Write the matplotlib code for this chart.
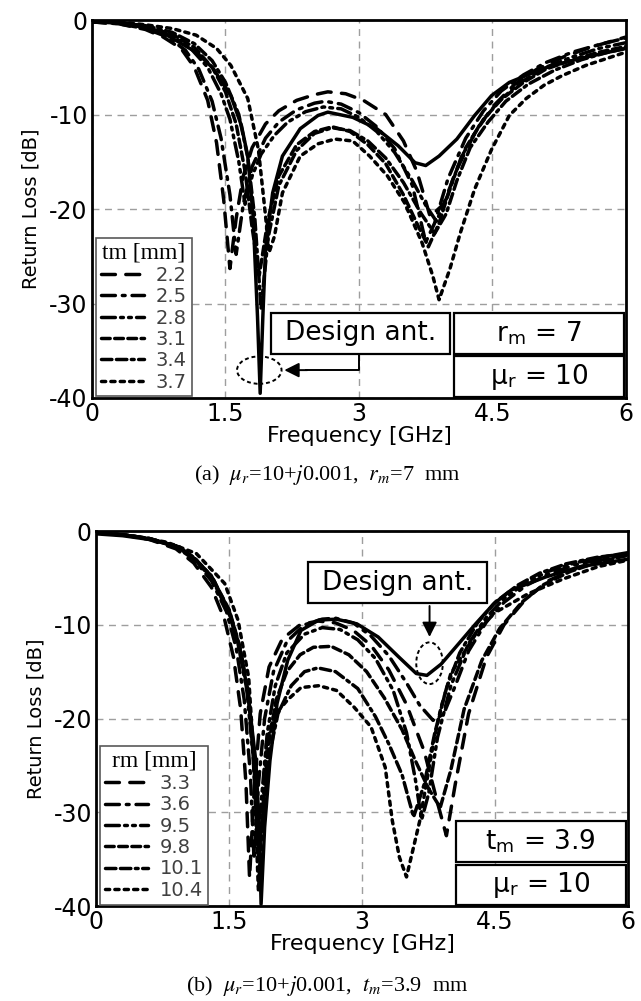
import matplotlib
matplotlib.use('Agg')
import matplotlib.pyplot as plt
from matplotlib.patches import Rectangle, Ellipse

plt.rcParams['mathtext.fontset'] = 'stix'
plt.rcParams['axes.unicode_minus'] = False

# ---------------- data (a): tm varies, rm = 7 ----------------
a_labels = ['2.2', '2.5', '2.8', '3.1', '3.4', '3.7']

a_f_22 = [0, 0.3, 0.6, 0.8, 1.0, 1.15, 1.3, 1.4, 1.48, 1.55, 1.62, 1.7, 1.8, 1.95, 2.1, 2.3, 2.5, 2.65, 2.85,
          3.05, 3.3, 3.5, 3.65, 3.8, 3.95, 4.1, 4.3, 4.5, 4.75, 5.0, 5.3, 5.6, 6.0]
a_db_22 = [-0.2, -0.4, -1.0, -1.8, -3.0, -5.0, -8.5, -13, -19, -26.3, -21, -16.5, -13.5, -11, -9.6, -8.5, -7.9, -7.6,
           -7.8, -8.5, -10, -12.8, -16, -20.8, -19.5, -15.8, -12, -9.2, -6.8, -5.2, -3.9, -2.9, -1.8]

a_f_25 = [0, 0.3, 0.6, 0.85, 1.05, 1.2, 1.35, 1.45, 1.55, 1.62, 1.7, 1.8, 1.95, 2.1, 2.3, 2.5, 2.62, 2.8, 3.0,
          3.2, 3.4, 3.6, 3.75, 3.85, 4.0, 4.2, 4.4, 4.6, 4.85, 5.1, 5.4, 5.7, 6.0]
a_db_25 = [-0.2, -0.4, -0.9, -1.8, -3.2, -5.2, -8.6, -12.5, -18.5, -24.8, -19.5, -15.5, -12.5, -10.8, -9.5, -8.8,
           -8.6, -8.9, -9.8, -11.3, -13.6, -17.5, -23.5, -21.5, -16.8, -12.5, -9.6, -7.5, -5.8, -4.5, -3.4, -2.6, -1.9]

a_f_28 = [0, 0.3, 0.6, 0.9, 1.1, 1.3, 1.45, 1.55, 1.65, 1.72, 1.8, 1.9, 2.05, 2.2, 2.4, 2.6, 2.8, 3.0, 3.2, 3.4,
          3.6, 3.75, 3.87, 4.0, 4.15, 4.35, 4.55, 4.8, 5.1, 5.4, 5.7, 6.0]
a_db_28 = [-0.2, -0.3, -0.8, -1.7, -2.9, -5.0, -7.8, -10.5, -15, -19.5, -16.5, -14.2, -12.2, -10.8, -9.7, -9.2,
           -9.4, -10.3, -11.8, -14, -17, -19.6, -21.3, -18.5, -14.5, -11.2, -8.8, -6.7, -5.0, -3.9, -3.0, -2.4]

a_f_31 = [0, 0.3, 0.6, 0.9, 1.15, 1.35, 1.5, 1.62, 1.72, 1.8, 1.88, 1.98, 2.1, 2.3, 2.5, 2.7, 2.9, 3.1, 3.3, 3.5,
          3.65, 3.78, 3.9, 4.05, 4.2, 4.4, 4.6, 4.85, 5.1, 5.4, 5.7, 6.0]
a_db_31 = [-0.1, -0.3, -0.7, -1.5, -2.9, -5.0, -7.6, -11, -16, -22, -27, -21, -16.5, -13.2, -11.8, -11.3, -11.8,
           -13.2, -15.2, -18.5, -21.5, -24, -21.5, -17, -13.5, -10.5, -8.4, -6.6, -5.2, -4.2, -3.4, -2.8]

a_f_34 = [0, 0.3, 0.6, 0.9, 1.15, 1.35, 1.5, 1.65, 1.75, 1.83, 1.9, 1.98, 2.1, 2.3, 2.5, 2.7, 2.9, 3.1, 3.3, 3.5,
          3.7, 3.85, 3.98, 4.1, 4.25, 4.45, 4.65, 4.9, 5.2, 5.5, 5.8, 6.0]
a_db_34 = [-0.1, -0.3, -0.6, -1.3, -2.5, -4.3, -6.6, -10, -14.5, -21, -30.5, -23, -17.5, -13.8, -12, -11.4, -11.7,
           -12.8, -14.6, -17.2, -20.5, -22.6, -20.5, -17, -13.5, -10.8, -8.6, -6.8, -5.3, -4.2, -3.4, -3.0]

a_f_37 = [0, 0.3, 0.6, 0.9, 1.17, 1.4, 1.56, 1.75, 1.87, 1.95, 1.99, 2.05, 2.14, 2.34, 2.54, 2.73, 2.93, 3.12, 3.32,
          3.51, 3.71, 3.83, 3.9, 4.02, 4.14, 4.3, 4.49, 4.69, 4.88, 5.08, 5.28, 5.55, 6.0]
a_db_37 = [-0.1, -0.2, -0.5, -0.9, -1.6, -3.0, -4.8, -8.3, -13.7, -20.7, -24.6, -22.9, -18.3, -14.4, -13.1, -12.6,
           -12.8, -14.4, -16.5, -19.3, -23.6, -27.1, -29.6, -26.4, -22.5, -17.9, -13.7, -10.1, -8.3, -6.9, -5.9,
           -4.8, -3.4]

a_curves = [(a_f_22, a_db_22), (a_f_25, a_db_25), (a_f_28, a_db_28),
            (a_f_31, a_db_31), (a_f_34, a_db_34), (a_f_37, a_db_37)]

# design antenna (solid)
a_f_des = [0, 0.38, 0.77, 1.17, 1.36, 1.56, 1.68, 1.75, 1.81, 1.86, 1.89, 1.92, 1.95, 2.03, 2.14, 2.34, 2.54, 2.65,
           2.93, 3.2, 3.44, 3.63, 3.75, 3.9, 4.1, 4.3, 4.49, 4.69, 5.08, 5.47, 6.0]
a_db_des = [-0.2, -0.35, -1.2, -3.4, -5.1, -8.0, -11.2, -14.4, -20.7, -31.4, -39.5, -31.4, -24.3, -18.3, -14.4,
            -11.5, -10.1, -9.75, -10.3, -11.5, -13.3, -15.1, -15.4, -14.4, -12.6, -10.1, -8.0, -6.6, -5.1, -4.1, -3.0]

# ---------------- data (b): rm varies, tm = 3.9 ----------------
b_labels = ['3.3', '3.6', '9.5', '9.8', '10.1', '10.4']

b_f_33 = [0, 0.3, 0.6, 0.9, 1.1, 1.3, 1.45, 1.55, 1.63, 1.69, 1.73, 1.78, 1.85, 1.95, 2.1, 2.3, 2.5, 2.7, 2.9,
          3.1, 3.3, 3.5, 3.7, 3.85, 3.95, 4.05, 4.2, 4.4, 4.6, 4.85, 5.1, 5.4, 5.7, 6.0]
b_db_33 = [-0.2, -0.4, -0.9, -1.9, -3.4, -6, -9.5, -13.5, -19, -27, -37, -28, -19.5, -14.5, -11.5, -10.0, -9.6,
           -9.8, -10.6, -12.2, -14.8, -18.5, -23.5, -29, -32.5, -27, -19.5, -13.5, -10, -7.2, -5.3, -4.0, -3.1, -2.4]

b_f_36 = [0, 0.3, 0.6, 0.9, 1.1, 1.3, 1.47, 1.58, 1.67, 1.74, 1.78, 1.83, 1.9, 2.0, 2.15, 2.35, 2.55, 2.7, 2.9,
          3.1, 3.3, 3.5, 3.65, 3.8, 3.92, 4.05, 4.2, 4.4, 4.6, 4.85, 5.1, 5.4, 5.7, 6.0]
b_db_36 = [-0.2, -0.4, -0.8, -1.7, -3.0, -5.3, -8.6, -12.5, -18, -26, -35, -27, -20, -15, -11.8, -10.0, -9.4,
           -9.3, -9.8, -11.2, -13.3, -16.2, -18.6, -20.2, -19.5, -16.5, -12.8, -9.7, -7.6, -5.8, -4.6, -3.6, -3.0,
           -2.5]

b_f_95 = [0, 0.3, 0.6, 0.9, 1.1, 1.3, 1.5, 1.6, 1.7, 1.77, 1.82, 1.87, 1.93, 2.02, 2.15, 2.35, 2.55, 2.75, 2.95,
          3.15, 3.35, 3.5, 3.6, 3.67, 3.75, 3.85, 4.0, 4.2, 4.4, 4.6, 4.85, 5.1, 5.4, 5.7, 6.0]
b_db_95 = [-0.2, -0.4, -0.8, -1.6, -2.9, -5.0, -8.8, -12, -17, -24, -33, -28, -21.5, -16.5, -13, -11, -10.3,
           -10.5, -11.6, -13.6, -17, -21.5, -26.5, -30.8, -28, -22, -16.5, -12, -9.2, -7.2, -5.5, -4.3, -3.4, -2.8,
           -2.3]

b_f_98 = [0, 0.3, 0.6, 0.9, 1.1, 1.3, 1.5, 1.62, 1.72, 1.79, 1.84, 1.88, 1.94, 2.03, 2.15, 2.3, 2.45, 2.65, 2.85,
          3.05, 3.25, 3.45, 3.6, 3.75, 3.88, 4.0, 4.15, 4.35, 4.55, 4.8, 5.05, 5.35, 5.7, 6.0]
b_db_98 = [-0.2, -0.4, -0.8, -1.6, -2.8, -4.8, -8.4, -12.3, -17.5, -25, -34, -30, -23, -18, -15, -13.2, -12.4,
           -12.3, -13.2, -15, -17.8, -21.2, -24.5, -27.5, -29.5, -25.5, -19, -13.8, -10.4, -7.6, -5.7, -4.3, -3.2,
           -2.6]

b_f_101 = [0, 0.3, 0.6, 0.9, 1.1, 1.3, 1.5, 1.62, 1.72, 1.78, 1.83, 1.88, 1.95, 2.05, 2.2, 2.35, 2.5, 2.7, 2.95,
           3.15, 3.3, 3.45, 3.58, 3.7, 3.82, 3.95, 4.1, 4.3, 4.5, 4.75, 5.0, 5.3, 5.65, 6.0]
b_db_101 = [-0.2, -0.4, -0.8, -1.6, -2.8, -4.8, -8.5, -12.5, -18, -25, -35, -31, -24, -19.5, -16.5, -15.0, -14.6,
            -15.0, -16.8, -19.8, -22.7, -26, -30.5, -27, -21.5, -16.8, -13, -9.8, -7.6, -5.8, -4.5, -3.5, -2.8,
            -2.4]

b_f_104 = [0, 0.4, 0.8, 1.13, 1.45, 1.6, 1.72, 1.78, 1.81, 1.83, 1.87, 1.92, 2.0, 2.16, 2.31, 2.51, 2.71, 2.91, 3.1,
           3.26, 3.34, 3.42, 3.5, 3.57, 3.65, 3.73, 3.81, 3.89, 4.0, 4.28, 4.48, 4.87, 5.27, 5.66, 6.0]
b_db_104 = [-0.2, -0.5, -1.2, -2.4, -5.6, -9.5, -15.6, -24.5, -33.4, -38.4, -31.6, -22.7, -19.8, -18, -16.7, -16.5,
            -17, -18.8, -20.9, -25.2, -30.9, -34.8, -36.9, -34.1, -30.9, -26.6, -22.3, -18.8, -15.2, -11, -8.8, -6.7,
            -5.1, -3.8, -3.1]

b_curves = [(b_f_33, b_db_33), (b_f_36, b_db_36), (b_f_95, b_db_95),
            (b_f_98, b_db_98), (b_f_101, b_db_101), (b_f_104, b_db_104)]

b_f_des = [0, 0.3, 0.6, 0.94, 1.13, 1.33, 1.53, 1.65, 1.72, 1.8, 1.84, 1.86, 1.9, 1.96, 2.04, 2.16, 2.31, 2.51,
           2.71, 2.94, 3.18, 3.42, 3.61, 3.73, 3.89, 4.09, 4.28, 4.48, 4.68, 5.07, 5.46, 6.0]
b_db_des = [-0.3, -0.5, -0.9, -1.7, -3.1, -5.3, -9.5, -13.8, -18, -24.5, -31.6, -39.8, -31.6, -24.5, -18.4, -13.8,
            -10.6, -9.5, -9.4, -9.9, -11.3, -13.5, -15.2, -15.4, -14.2, -12, -9.9, -7.8, -6.3, -4.9, -3.8, -3.0]

styles = [(0, (4, 3)),
          (0, (4, 2, 0.8, 2)),
          (0, (4, 1.5, 0.8, 1.5, 0.8, 1.5)),
          (0, (2.5, 1.3)),
          (0, (3, 1.3, 3, 1.3, 0.8, 1.3)),
          (0, (1.2, 1.5))]

xticks = [0, 1.5, 3, 4.5, 6]
xtick_labels = ['0', '1.5', '3', '4.5', '6']
yticks = [0, -10, -20, -30, -40]


def setup_axes(ax):
    ax.set_xlim(0, 6)
    ax.set_ylim(-40, 0)
    ax.set_xticks(xticks)
    ax.set_xticklabels(xtick_labels)
    ax.set_yticks(yticks)
    ax.tick_params(length=0, labelsize=17, pad=3)
    ax.grid(True, color='0.62', ls=(0, (5, 4)), lw=1.0)
    for s in ax.spines.values():
        s.set_linewidth(2.0)
    ax.set_xlabel('Frequency [GHz]', fontsize=16, labelpad=0)
    ax.set_ylabel('Return Loss [dB]', fontsize=14, labelpad=6)


def draw_curves(ax, curves, labels, title, des):
    for (f, db), lab, ls in zip(curves, labels, styles):
        ax.plot(f, db, color='black', lw=2.5, ls=ls, label=lab, solid_capstyle='round',
                dash_capstyle='round')
    ax.plot(des[0], des[1], color='black', lw=2.5)
    leg = ax.legend(loc='lower left', bbox_to_anchor=(0.008, 0.004), borderaxespad=0, fontsize=14,
                    title=title, title_fontproperties={'family': 'Liberation Serif', 'size': 17},
                    handlelength=2.2, handletextpad=0.6, labelspacing=0.12, borderpad=0.25,
                    fancybox=False, framealpha=1, edgecolor='0.35')
    leg.get_frame().set_linewidth(1.2)
    for t in leg.get_texts():
        t.set_color('0.25')


def box(ax, x0, x1, y0, y1, text, fs=19):
    ax.add_patch(Rectangle((x0, y0), x1 - x0, y1 - y0, fill=True, facecolor='white',
                           edgecolor='black', lw=1.6, zorder=5))
    ax.text((x0 + x1) / 2, (y0 + y1) / 2, text, ha='center', va='center', fontsize=fs, zorder=6)


fig = plt.figure(figsize=(6.41, 10.01), dpi=100)

# ---- panel (a)
ax1 = fig.add_axes([0.1435, 0.6024, 0.833, 0.3776])
setup_axes(ax1)
draw_curves(ax1, a_curves, a_labels, 'tm [mm]', (a_f_des, a_db_des))
box(ax1, 2.01, 4.02, -35.35, -30.96, 'Design ant.')
box(ax1, 4.07, 5.98, -35.35, -30.96, r'r$_\mathregular{m}$ = 7')
box(ax1, 4.07, 5.98, -39.85, -35.6, r'μ$_\mathregular{r}$ = 10')
ax1.add_patch(Ellipse((1.88, -37.05), 0.5, 2.9, fill=False, ls=(0, (2, 1.5)), lw=1.4, zorder=6))
ax1.plot([3.0, 3.0, 2.4], [-35.35, -37.05, -37.05], color='black', lw=1.4, zorder=6)
ax1.annotate('', xy=(2.13, -37.05), xytext=(2.45, -37.05),
             arrowprops=dict(arrowstyle='-|>', color='black', lw=1.4, mutation_scale=22), zorder=6)

# ---- panel (b)
ax2 = fig.add_axes([0.150, 0.0949, 0.830, 0.3746])
setup_axes(ax2)
draw_curves(ax2, b_curves, b_labels, 'rm [mm]', (b_f_des, b_db_des))
box(ax2, 2.39, 4.41, -7.7, -3.3, 'Design ant.')
box(ax2, 4.06, 5.97, -35.3, -30.9, r't$_\mathregular{m}$ = 3.9')
box(ax2, 4.06, 5.97, -39.85, -35.6, r'μ$_\mathregular{r}$ = 10')
ax2.add_patch(Ellipse((3.76, -14.1), 0.3, 4.45, fill=False, ls=(0, (2, 1.5)), lw=1.4, zorder=6))
ax2.annotate('', xy=(3.76, -11.6), xytext=(3.76, -7.7),
             arrowprops=dict(arrowstyle='-|>', color='black', lw=1.4, mutation_scale=22), zorder=6)

# ---- captions
fig.text(0.51, 0.5255, r'(a)  $\mu_{r}$=10+$j$0.001,  $r_{m}$=7  mm', ha='center', va='center',
         fontsize=16, family='Liberation Serif')
fig.text(0.51, 0.015, r'(b)  $\mu_{r}$=10+$j$0.001,  $t_{m}$=3.9  mm', ha='center', va='center',
         fontsize=16, family='Liberation Serif')

fig.savefig('out.png', dpi=100)
